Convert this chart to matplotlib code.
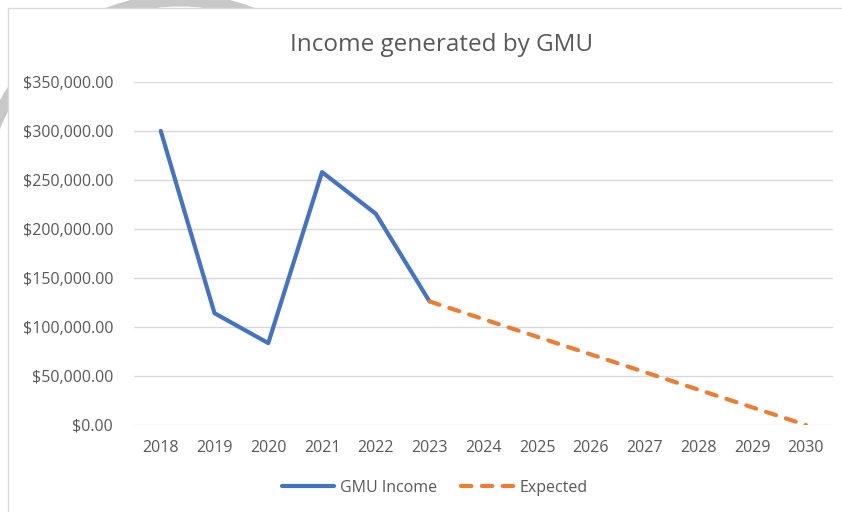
import matplotlib.pyplot as plt
from matplotlib.patches import Rectangle, Arc
from matplotlib.ticker import FuncFormatter

plt.rcParams['font.family'] = ['Open Sans', 'DejaVu Sans']

years = ['2018', '2019', '2020', '2021', '2022', '2023', '2024',
         '2025', '2026', '2027', '2028', '2029', '2030']
income = [300000, 114000, 83500, 258000, 215500, 126000]
expected = [126000, 108000, 90000, 72000, 54000, 36000, 18000, 0]

text_col = '#595959'

fig = plt.figure(figsize=(8.42, 5.12), dpi=100)

# faint watermark arc behind the chart area, then the chart area itself
fig.patches.append(Arc((0.214, 0.609), 0.475, 0.781, theta1=55, theta2=165,
                       transform=fig.transFigure, color='#c8c8c8', lw=9, zorder=-2))
fig.patches.append(Rectangle((0.0095, -0.1), 1.0, 1.084, transform=fig.transFigure,
                             facecolor='white', edgecolor='#d9d9d9', lw=1, zorder=-1))

ax = fig.add_axes([0.159, 0.170, 0.830, 0.670])
ax.patch.set_alpha(0)
x_inc = list(range(len(income)))
x_exp = list(range(len(income) - 1, len(income) - 1 + len(expected)))
ax.plot(x_inc, income, color='#4472C4', lw=3, label='GMU Income',
        solid_capstyle='round', solid_joinstyle='round', zorder=3)
ax.plot(x_exp, expected, color='#ED7D31', lw=3, ls=(0, (2.5, 2.5)),
        label='Expected', dash_capstyle='round', zorder=3)

ax.set_xlim(-0.5, len(years) - 0.5)
ax.set_ylim(0, 350000)
ax.set_yticks(range(0, 350001, 50000))
ax.yaxis.set_major_formatter(FuncFormatter(lambda v, p: f'${v:,.2f}'))
ax.set_xticks(range(len(years)))
ax.set_xticklabels(years)
ax.tick_params(length=0, labelsize=11.5, colors=text_col)
ax.tick_params(axis='y', pad=15)
ax.tick_params(axis='x', pad=11)
ax.grid(axis='y', color='#d9d9d9', lw=1)
ax.set_axisbelow(True)
for s in ax.spines.values():
    s.set_visible(False)

fig.text(0.524, 0.912, 'Income generated by GMU', ha='center', va='center',
         fontsize=17.5, color=text_col)

fig.legend(loc='center', bbox_to_anchor=(0.516, 0.047), ncol=2, frameon=False,
           fontsize=11.5, labelcolor=text_col, handlelength=3.3, columnspacing=1.5,
           handletextpad=0.35)

fig.savefig('out.png', dpi=100, facecolor='white')
